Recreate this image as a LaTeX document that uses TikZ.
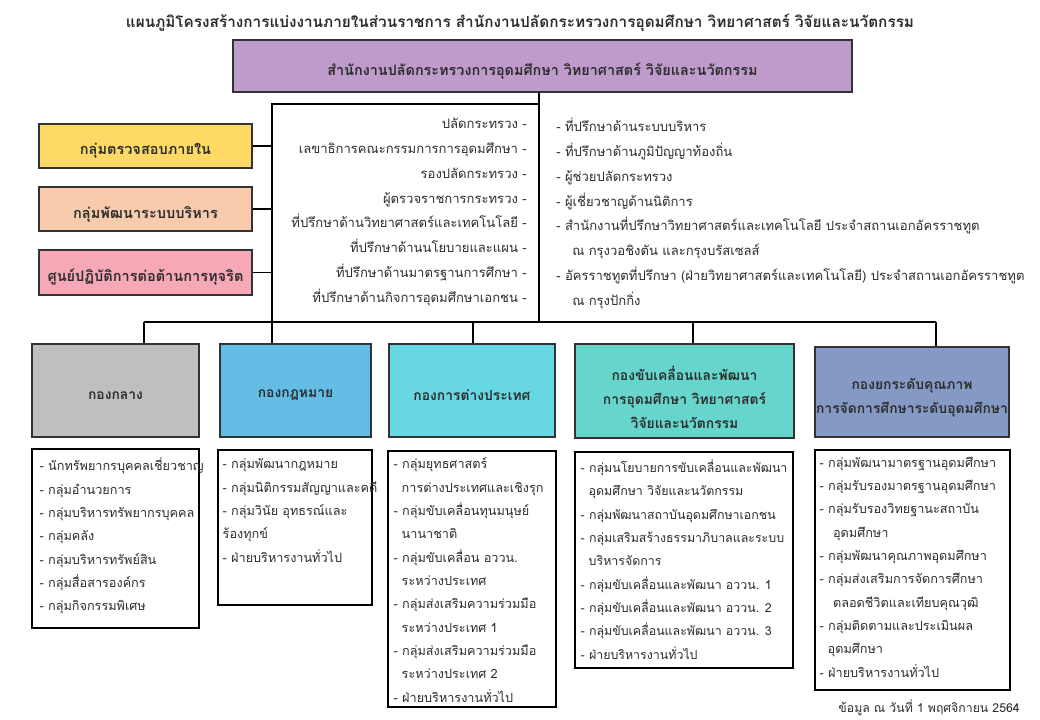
\documentclass[tikz,border=0pt]{standalone}
\usepackage{fontspec}
\setmainfont[Script=Thai]{Loma}
\usetikzlibrary{fit}
\definecolor{cpurple}{RGB}{191,155,203}
\definecolor{cyellow}{RGB}{255,217,102}
\definecolor{cpeach}{RGB}{248,203,173}
\definecolor{cpink}{RGB}{246,168,182}
\definecolor{cgray}{RGB}{191,191,191}
\definecolor{cblue}{RGB}{99,189,229}
\definecolor{ccyan}{RGB}{103,215,228}
\definecolor{cteal}{RGB}{102,214,204}
\definecolor{cslate}{RGB}{132,153,196}
\definecolor{ctext}{RGB}{45,45,45}
\begin{document}
\begin{tikzpicture}[x=0.75pt,y=-0.75pt,
  hbox/.style={draw=black!80, line width=1.1pt, inner sep=0pt},
  htxt/.style={inner sep=0pt, align=center, font=\bfseries\fontsize{10.4}{18}\selectfont, text=ctext},
  bigtxt/.style={htxt, font=\bfseries\fontsize{10.9}{14}\selectfont},
  lbox/.style={draw=black, line width=0.8pt, inner sep=0pt},
  ltxt/.style={font=\fontsize{9.5}{17.5}\selectfont, align=left, anchor=north west,
    inner sep=0pt, text=ctext},
  otxt/.style={font=\fontsize{9.8}{18.6}\selectfont, inner sep=0pt, text=ctext},
  conn/.style={draw=black, line width=0.8pt}]
\useasboundingbox (0,0) rectangle (1040,720);
\fill[white] (0,0) rectangle (1040,720);
% title
\node[font=\bfseries\fontsize{11.5}{14}\selectfont, text=ctext] (title) at (520,23)
  {แผนภูมิโครงสร้างการแบ่งงานภายในส่วนราชการ สำนักงานปลัดกระทรวงการอุดมศึกษา วิทยาศาสตร์ วิจัยและนวัตกรรม};
% top box
\node[hbox, fill=cpurple, fit={(233,40) (852,92)}] (top) {};
\node[htxt, font=\bfseries\fontsize{10.8}{14}\selectfont] (topt) at ([shift={(0,5)}]top.center)
  {สำนักงานปลัดกระทรวงการอุดมศึกษา วิทยาศาสตร์ วิจัยและนวัตกรรม};
% left boxes
\node[hbox, fill=cyellow, fit={(39,124) (252,168)}] (audit) {};
\node[bigtxt] (auditt) at ([shift={(0,5)}]audit.center) {กลุ่มตรวจสอบภายใน};
\node[hbox, fill=cpeach, fit={(39,187) (252,231)}] (pdev) {};
\node[bigtxt] (pdevt) at ([shift={(0,5)}]pdev.center) {กลุ่มพัฒนาระบบบริหาร};
\node[hbox, fill=cpink, fit={(39,250) (252,295)}] (anti) {};
\node[bigtxt] (antit) at ([shift={(0,5)}]anti.center) {ศูนย์ปฏิบัติการต่อต้านการทุจริต};
% division boxes
\node[hbox, fill=cgray, fit={(32,344) (199,437)}] (d1) {};
\node[htxt] (d1t) at ([shift={(0,5)}]d1.center) {กองกลาง};
\node[hbox, fill=cblue, fit={(220,344) (371,437)}] (d2) {};
\node[htxt] (d2t) at ([shift={(0,5)}]d2.center) {กองกฎหมาย};
\node[hbox, fill=ccyan, fit={(389,344) (555,437)}] (d3) {};
\node[htxt] (d3t) at ([shift={(0,5)}]d3.center) {กองการต่างประเทศ};
\node[hbox, fill=cteal, fit={(575,344) (794,438)}] (d4) {};
\node[htxt] (d4t) at ([shift={(0,6)}]d4.center) {กองขับเคลื่อนและพัฒนา\\การอุดมศึกษา วิทยาศาสตร์\\วิจัยและนวัตกรรม};
\node[hbox, fill=cslate, fit={(815,347) (1009,437)}] (d5) {};
\node[htxt] (d5t) at ([shift={(0,6)}]d5.center) {กองยกระดับคุณภาพ\\การจัดการศึกษาระดับอุดมศึกษา};
% list boxes
\node[lbox, fit={(32,449) (199,628)}] (l1) {};
\node[lbox, fit={(218,450) (372,605)}] (l2) {};
\node[lbox, fit={(388,451) (556,707)}] (l3) {};
\node[lbox, fit={(575,452) (793,668)}] (l4) {};
\node[lbox, fit={(815,450) (1010,690)}] (l5) {};
% junction coordinates
\coordinate (vx) at (539,322);
\coordinate (ob) at (272,104);
\coordinate (obl) at (272,322);
\coordinate (j1) at (144,322);
\coordinate (j3) at (473,322);
\coordinate (j4) at (693,322);
\coordinate (j5) at (936,322);
% connectors
\draw[conn] (top.south -| vx) -- (vx);
\draw[conn] (ob -| vx) -- (ob) -- (obl);
\draw[conn] (j1) -- (j5);
\draw[conn] (j1) -- (d1.north -| j1);
\draw[conn] (obl) -- (d2.north -| obl);
\draw[conn] (j3) -- (d3.north -| j3);
\draw[conn] (j4) -- (d4.north -| j4);
\draw[conn] (j5) -- (d5.north -| j5);
\draw[conn] (audit.east) -- (audit.east -| ob);
\draw[conn] (pdev.east) -- (pdev.east -| ob);
\draw[conn] (anti.east) -- (anti.east -| ob);
% officials lists
\node[otxt, align=right, anchor=north east] (offl) at (527,118)
  {ปลัดกระทรวง -\\เลขาธิการคณะกรรมการการอุดมศึกษา -\\รองปลัดกระทรวง -\\ผู้ตรวจราชการกระทรวง -\\ที่ปรึกษาด้านวิทยาศาสตร์และเทคโนโลยี -\\ที่ปรึกษาด้านนโยบายและแผน -\\ที่ปรึกษาด้านมาตรฐานการศึกษา -\\ที่ปรึกษาด้านกิจการอุดมศึกษาเอกชน -};
\node[otxt, align=left, anchor=north west] (offr) at (556,118)
  {- ที่ปรึกษาด้านระบบบริหาร\\- ที่ปรึกษาด้านภูมิปัญญาท้องถิ่น\\- ผู้ช่วยปลัดกระทรวง\\- ผู้เชี่ยวชาญด้านนิติการ\\- สำนักงานที่ปรึกษาวิทยาศาสตร์และเทคโนโลยี ประจำสถานเอกอัครราชทูต\\\hspace*{12pt}ณ กรุงวอชิงตัน และกรุงบรัสเซลส์\\- อัครราชทูตที่ปรึกษา (ฝ่ายวิทยาศาสตร์และเทคโนโลยี) ประจำสถานเอกอัครราชทูต\\\hspace*{12pt}ณ กรุงปักกิ่ง};
% list texts
\node[ltxt] (t1) at ([shift={(8,9)}]l1.north west)
  {- นักทรัพยากรบุคคลเชี่ยวชาญ\\- กลุ่มอำนวยการ\\- กลุ่มบริหารทรัพยากรบุคคล\\- กลุ่มคลัง\\- กลุ่มบริหารทรัพย์สิน\\- กลุ่มสื่อสารองค์กร\\- กลุ่มกิจกรรมพิเศษ};
\node[ltxt] (t2) at ([shift={(5,9)}]l2.north west)
  {- กลุ่มพัฒนากฎหมาย\\- กลุ่มนิติกรรมสัญญาและคดี\\- กลุ่มวินัย อุทธรณ์และ\\ร้องทุกข์\\- ฝ่ายบริหารงานทั่วไป};
\node[ltxt] (t3) at ([shift={(6,7)}]l3.north west)
  {- กลุ่มยุทธศาสตร์\\\hspace*{6pt}การต่างประเทศและเชิงรุก\\- กลุ่มขับเคลื่อนทุนมนุษย์\\\hspace*{6pt}นานาชาติ\\- กลุ่มขับเคลื่อน อววน.\\\hspace*{6pt}ระหว่างประเทศ\\- กลุ่มส่งเสริมความร่วมมือ\\\hspace*{6pt}ระหว่างประเทศ 1\\- กลุ่มส่งเสริมความร่วมมือ\\\hspace*{6pt}ระหว่างประเทศ 2\\- ฝ่ายบริหารงานทั่วไป};
\node[ltxt, font=\fontsize{9.3}{17.5}\selectfont] (t4) at ([shift={(6,8)}]l4.north west)
  {- กลุ่มนโยบายการขับเคลื่อนและพัฒนา\\\hspace*{6pt}อุดมศึกษา วิจัยและนวัตกรรม\\- กลุ่มพัฒนาสถาบันอุดมศึกษาเอกชน\\- กลุ่มเสริมสร้างธรรมาภิบาลและระบบ\\\hspace*{6pt}บริหารจัดการ\\- กลุ่มขับเคลื่อนและพัฒนา อววน. 1\\- กลุ่มขับเคลื่อนและพัฒนา อววน. 2\\- กลุ่มขับเคลื่อนและพัฒนา อววน. 3\\- ฝ่ายบริหารงานทั่วไป};
\node[ltxt] (t5) at ([shift={(5,7)}]l5.north west)
  {- กลุ่มพัฒนามาตรฐานอุดมศึกษา\\- กลุ่มรับรองมาตรฐานอุดมศึกษา\\- กลุ่มรับรองวิทยฐานะสถาบัน\\\hspace*{10pt}อุดมศึกษา\\- กลุ่มพัฒนาคุณภาพอุดมศึกษา\\- กลุ่มส่งเสริมการจัดการศึกษา\\\hspace*{10pt}ตลอดชีวิตและเทียบคุณวุฒิ\\- กลุ่มติดตามและประเมินผล\\\hspace*{6pt}อุดมศึกษา\\- ฝ่ายบริหารงานทั่วไป};
% footer
\node[font=\fontsize{9.2}{12}\selectfont, text=ctext, anchor=east, inner sep=0pt] (foot) at (1020,708)
  {ข้อมูล ณ วันที่ 1 พฤศจิกายน 2564};
\end{tikzpicture}
\end{document}
